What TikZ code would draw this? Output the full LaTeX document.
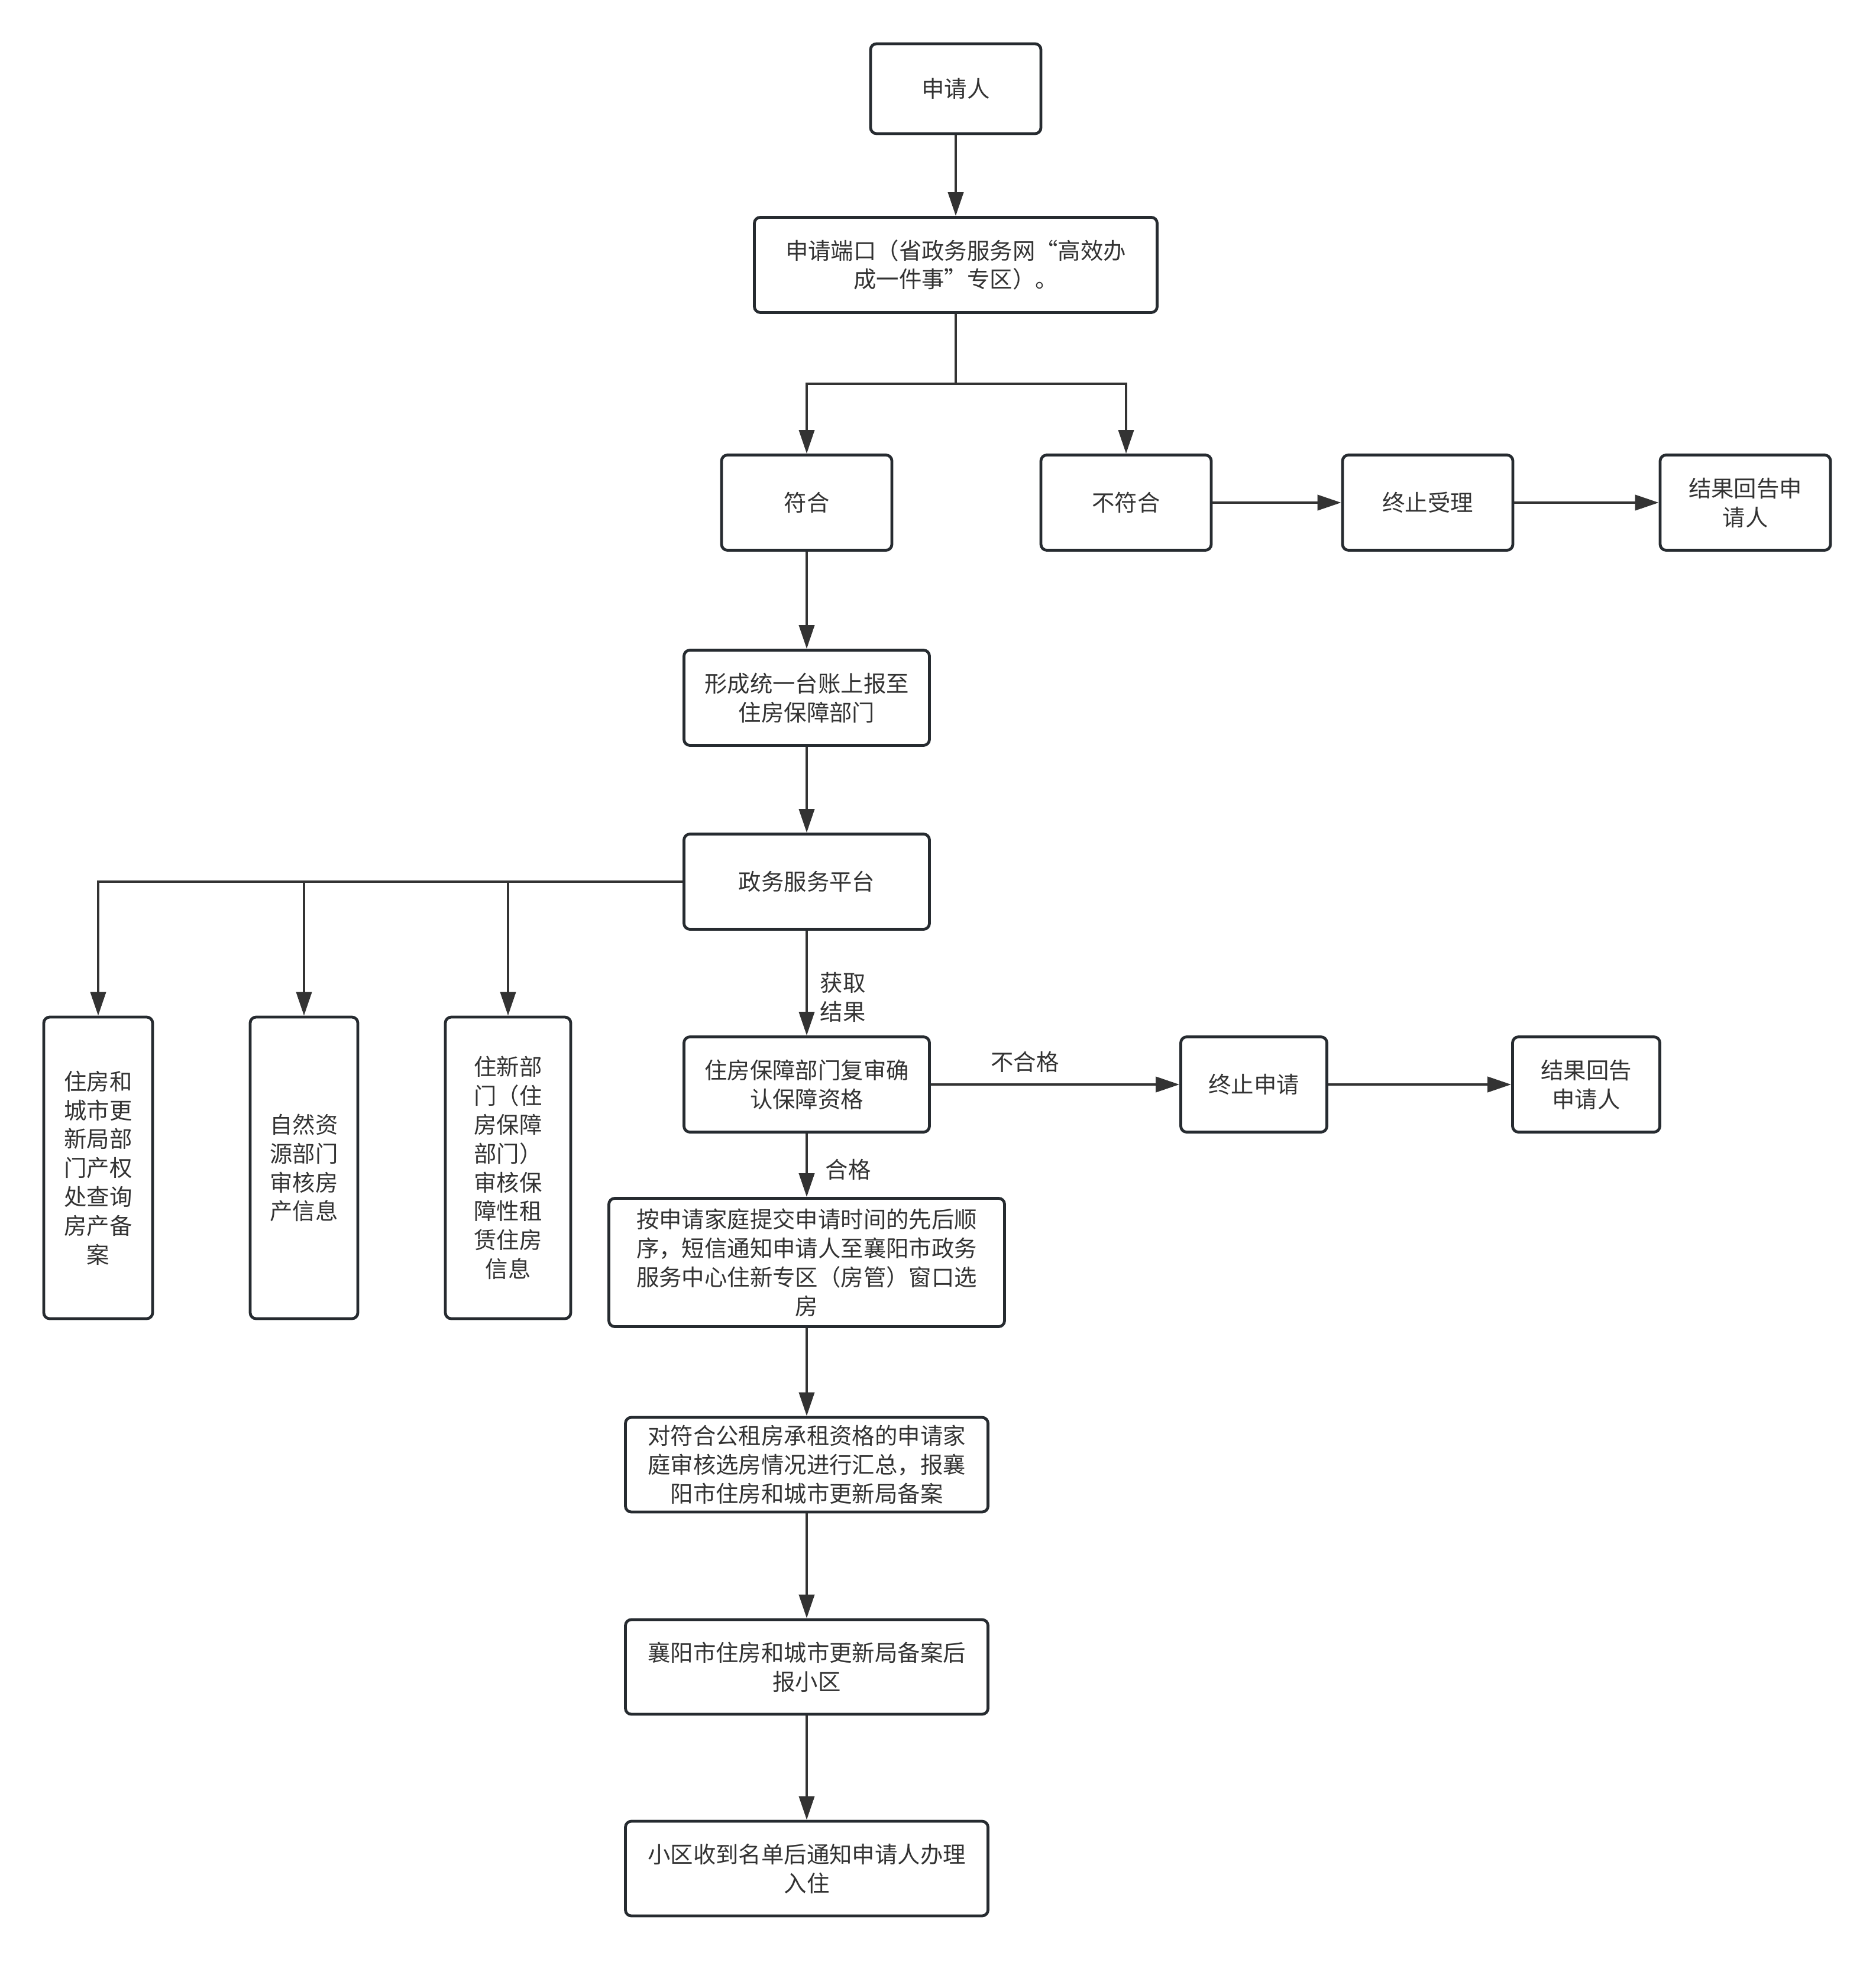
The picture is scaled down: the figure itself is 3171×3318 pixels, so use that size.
\documentclass[tikz,border=0pt]{standalone}
\usepackage{fontspec}
\setmainfont{Noto Sans CJK SC}
\usetikzlibrary{arrows.meta}
\definecolor{boxline}{HTML}{262B30}
\definecolor{txt}{HTML}{333333}
\definecolor{conn}{HTML}{333333}
\begin{document}
\begin{tikzpicture}[x=0.25pt,y=-0.25pt,
  box/.style={draw=boxline, line width=1.2pt, rounded corners=2.5pt, fill=white,
    text=txt, align=center, inner sep=0pt, minimum height=40.25pt,
    font=\fontsize{9.6pt}{12.2pt}\selectfont},
  lbl/.style={text=txt, align=left, inner sep=0pt, font=\fontsize{9.6pt}{12.2pt}\selectfont},
  wire/.style={draw=conn, line width=1pt},
  arr/.style={wire, -{Triangle[length=10pt, width=6.5pt]}}]
\path[use as bounding box, fill=white] (0,0) rectangle (3171,3318);

\node[box, minimum width=72pt, minimum height=38pt] (n1) at (1616,150) {申请人};
\node[box, minimum width=170.25pt] (n2) at (1616,448) {申请端口（省政务服务网“高效办\\成一件事”专区）。};
\node[box, minimum width=72pt] (n3) at (1364,850) {符合};
\node[box, minimum width=72pt] (n4) at (1904,850) {不符合};
\node[box, minimum width=72pt] (n5) at (2414,850) {终止受理};
\node[box, minimum width=72pt] (n6) at (2951,850) {结果回告申\\请人};
\node[box, minimum width=103.75pt] (n7) at (1364,1180) {形成统一台账上报至\\住房保障部门};
\node[box, minimum width=103.75pt] (n8) at (1364,1491) {政务服务平台};
\node[box, minimum width=46pt, minimum height=127.5pt] (n9) at (166,1975) {住房和\\城市更\\新局部\\门产权\\处查询\\房产备\\案};
\node[box, minimum width=45.5pt, minimum height=127.5pt] (n10) at (514,1975) {自然资\\源部门\\审核房\\产信息};
\node[box, minimum width=53pt, minimum height=127.5pt] (n11) at (859,1975) {住新部\\门（住\\房保障\\部门）\\审核保\\障性租\\赁住房\\信息};
\node[box, minimum width=103.75pt] (n12) at (1364,1834) {住房保障部门复审确\\认保障资格};
\node[box, minimum width=61.75pt] (n13) at (2120,1834) {终止申请};
\node[box, minimum width=62.25pt] (n14) at (2682,1834) {结果回告\\申请人};
\node[box, minimum width=167.25pt, minimum height=54.25pt] (n15) at (1364,2135) {按申请家庭提交申请时间的先后顺\\序，短信通知申请人至襄阳市政务\\服务中心住新专区（房管）窗口选\\房};
\node[box, minimum width=153.25pt, minimum height=40pt] (n16) at (1364,2477) {对符合公租房承租资格的申请家\\庭审核选房情况进行汇总，报襄\\阳市住房和城市更新局备案};
\node[box, minimum width=153.25pt, minimum height=40pt] (n17) at (1364,2819) {襄阳市住房和城市更新局备案后\\报小区};
\node[box, minimum width=153.25pt, minimum height=40pt] (n18) at (1364,3160) {小区收到名单后通知申请人办理\\入住};

\coordinate (b1) at (1616,649);

\draw[arr] (n1) -- (n2);
\draw[wire] (n2.south) -- (b1);
\draw[arr] (b1) -| (n3);
\draw[arr] (b1) -| (n4);
\draw[arr] (n4) -- (n5);
\draw[arr] (n5) -- (n6);
\draw[arr] (n3) -- (n7);
\draw[arr] (n7) -- (n8);
\draw[arr] (n8.west) -| (n9);
\draw[arr] (n8.west) -| (n10);
\draw[arr] (n8.west) -| (n11);
\draw[arr] (n8) -- (n12);
\draw[arr] (n12) -- (n13);
\draw[arr] (n13) -- (n14);
\draw[arr] (n12) -- (n15);
\draw[arr] (n15) -- (n16);
\draw[arr] (n16) -- (n17);
\draw[arr] (n17) -- (n18);

\node[lbl, anchor=west] (l1) at (1386,1686) {获取\\结果};
\node[lbl] (l2) at (1733,1796) {不合格};
\node[lbl] (l3) at (1434,1978) {合格};
\end{tikzpicture}
\end{document}
